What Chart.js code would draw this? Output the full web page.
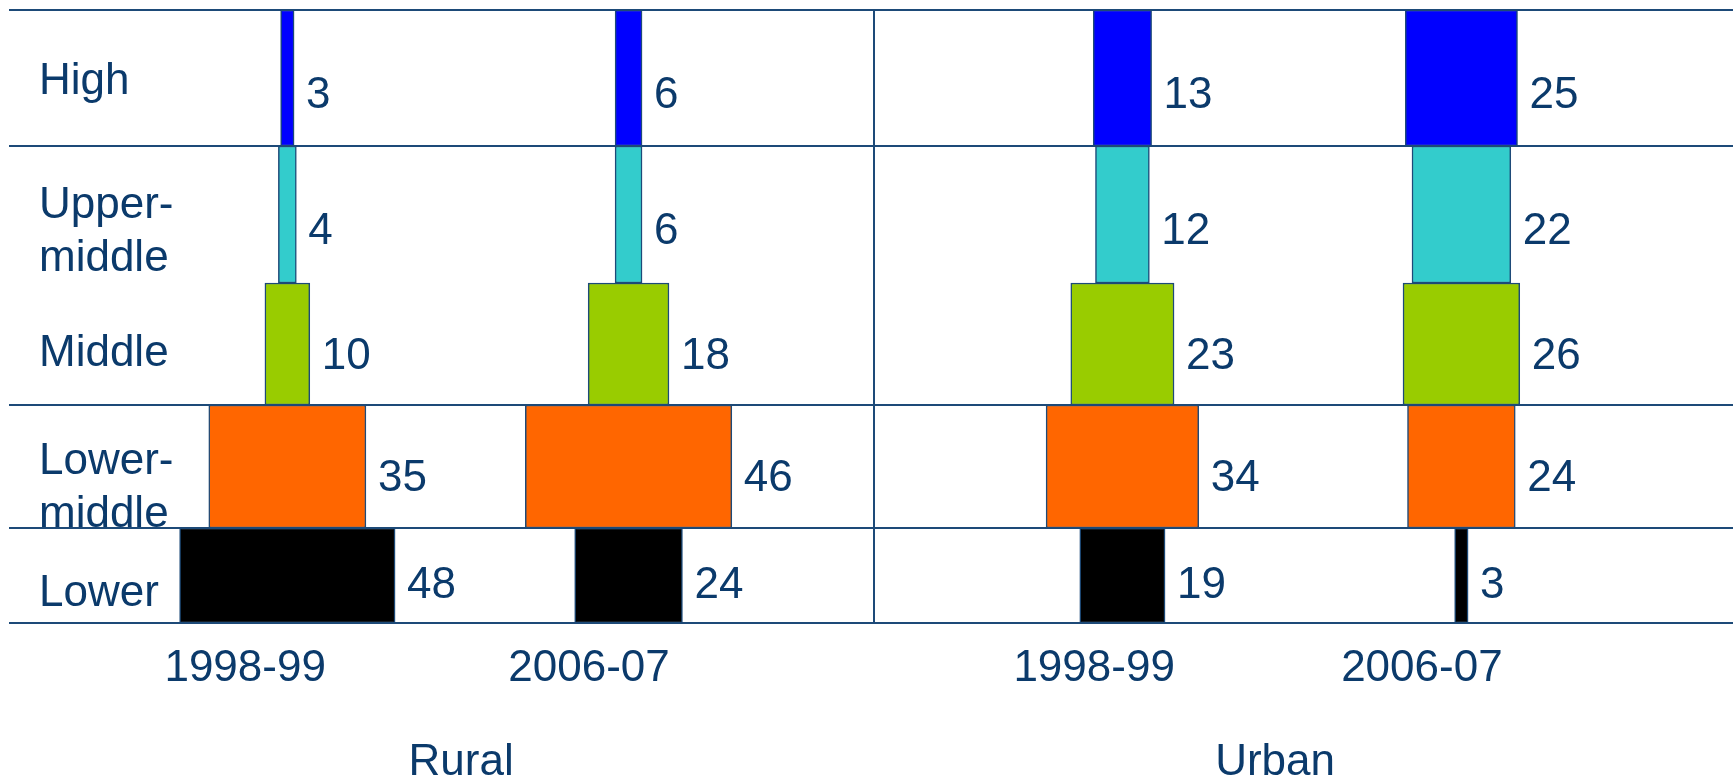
<!DOCTYPE html>
<html>
<head>
<meta charset="utf-8">
<title>Households by income class</title>
<script src="https://cdn.jsdelivr.net/npm/chart.js@4"></script>
<style>
  html, body { margin: 0; padding: 0; background: #fff; }
  #wrap { width: 1733px; height: 780px; position: relative; }
</style>
</head>
<body>
<div id="wrap"><canvas id="classChart"></canvas></div>
<script>
// income classes, top to bottom
const classLabels = ['High', ['Upper-', 'middle'], 'Middle', ['Lower-', 'middle'], 'Lower'];
const periods = ['1998-99', '2006-07', '1998-99', '2006-07'];
const areas = ['Rural', 'Urban'];

// share of households (%) in each class, same order as classLabels
const rural1998 = [3, 4, 10, 35, 48];
const rural2006 = [6, 6, 18, 46, 24];
const urban1998 = [13, 12, 23, 34, 19];
const urban2006 = [25, 22, 26, 24, 3];

const columns = [rural1998, rural2006, urban1998, urban2006];
const classColors = ['#0000ff', '#33cccc', '#99cc00', '#ff6600', '#000000'];

const navy = '#0b3a6b';
const lineNavy = '#1d4a78';
const font = { family: '"Liberation Sans", Arial, sans-serif', size: 44 };

// layout: x axis in percentage points, y axis in row units (top = 0)
const layout = {
  xMax: 384,
  colCenter: [62, 138, 248, 323.5],
  periodAt: [52.6, 129.2, 241.7, 314.7],
  areaAt: [100.7, 282],
  splitAt: 192.7,
  yMax: 613,
  rowEdges: [0, 136, 273, 395, 518, 613],
  gridRows: [0, 136, 395, 518, 613],
  classLabelAt: [72, 222, 344, 478, 584],
  valueDrop: [18, 17, 13, 12, 10],
  valueGap: 12
};

const rowMid = r => (layout.rowEdges[r] + layout.rowEdges[r + 1]) / 2;

// one dataset per class, one floating bar per period, centred on its column
const datasets = classColors.map((color, r) => ({
  label: Array.isArray(classLabels[r]) ? classLabels[r].join('') : classLabels[r],
  data: columns.map((col, c) => ({
    x: [layout.colCenter[c] - col[r] / 2, layout.colCenter[c] + col[r] / 2],
    y: rowMid(r)
  })),
  backgroundColor: color,
  borderColor: lineNavy,
  borderWidth: 1.5,
  borderSkipped: false,
  grouped: false,
  // bar fills the whole row height
  barThickness: ctx => {
    const y = ctx.chart.scales.y;
    const i = ctx.datasetIndex;
    return Math.abs(y.getPixelForValue(layout.rowEdges[i + 1]) - y.getPixelForValue(layout.rowEdges[i]));
  }
}));

// prints the share to the right of each bar
const valueLabels = {
  id: 'valueLabels',
  afterDatasetsDraw(chart) {
    const ctx = chart.ctx;
    ctx.save();
    ctx.font = `${font.size}px ${font.family}`;
    ctx.fillStyle = navy;
    ctx.textAlign = 'left';
    ctx.textBaseline = 'middle';
    chart.data.datasets.forEach((ds, r) => {
      chart.getDatasetMeta(r).data.forEach((bar, c) => {
        const right = Math.max(bar.x, bar.base);
        ctx.fillText(String(columns[c][r]), right + layout.valueGap, bar.y + layout.valueDrop[r]);
      });
    });
    ctx.restore();
  }
};

const flat = scale => {
  scale.paddingLeft = 0;
  scale.paddingRight = 0;
  scale.paddingTop = 0;
  scale.paddingBottom = 0;
};

new Chart(document.getElementById('classChart'), {
  type: 'bar',
  data: { datasets },
  options: {
    indexAxis: 'y',
    responsive: true,
    maintainAspectRatio: false,
    animation: false,
    layout: { padding: { left: 9, top: 10, right: 0, bottom: 0 } },
    plugins: { legend: { display: false }, tooltip: { enabled: false } },
    scales: {
      x: {
        type: 'linear', position: 'bottom', min: 0, max: layout.xMax,
        grid: { display: false, drawTicks: false }, border: { display: false },
        afterBuildTicks: s => { s.ticks = layout.periodAt.map(v => ({ value: v })); },
        afterFit: flat,
        ticks: {
          autoSkip: false, maxRotation: 0, minRotation: 0, padding: 19,
          color: navy, font,
          callback: (v, i) => periods[i]
        }
      },
      xArea: {
        type: 'linear', position: 'bottom', min: 0, max: layout.xMax,
        grid: { display: false, drawTicks: false }, border: { display: false },
        afterBuildTicks: s => { s.ticks = layout.areaAt.map(v => ({ value: v })); },
        afterFit: s => { flat(s); s.height -= 32.8; },
        ticks: {
          autoSkip: false, maxRotation: 0, minRotation: 0, padding: 23.1,
          color: navy, font,
          callback: (v, i) => areas[i]
        }
      },
      xSplit: {
        type: 'linear', position: 'top', min: 0, max: layout.xMax,
        border: { display: false },
        grid: { color: lineNavy, lineWidth: 2, drawTicks: false },
        afterBuildTicks: s => { s.ticks = [{ value: layout.splitAt }]; },
        afterFit: flat,
        ticks: { display: false }
      },
      y: {
        type: 'linear', position: 'left', min: 0, max: layout.yMax, reverse: true,
        offset: false,
        border: { display: false },
        grid: { color: lineNavy, lineWidth: 2, drawTicks: false, offset: false },
        afterBuildTicks: s => { s.ticks = layout.gridRows.map(v => ({ value: v })); },
        afterFit: s => { flat(s); s.width = 0; },
        ticks: { display: false }
      },
      yClass: {
        type: 'linear', position: 'left', min: 0, max: layout.yMax, reverse: true,
        offset: false,
        grid: { display: false, offset: false }, border: { display: false },
        afterBuildTicks: s => { s.ticks = layout.classLabelAt.map(v => ({ value: v })); },
        afterFit: s => { flat(s); s.width = 0; },
        ticks: {
          mirror: true, crossAlign: 'near', padding: 30, autoSkip: false,
          color: navy, font,
          callback: (v, i) => classLabels[i]
        }
      }
    }
  },
  plugins: [valueLabels]
});
</script>
</body>
</html>
